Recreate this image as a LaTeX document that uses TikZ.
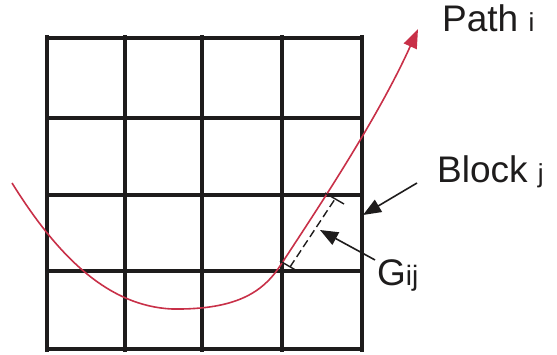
\documentclass[tikz,border=0pt]{standalone}
\usepackage{fontspec}
\setmainfont{Liberation Sans}
\usepackage{tikz}
\usepackage{xcolor}
\usetikzlibrary{arrows.meta,calc}
\definecolor{pathred}{RGB}{200,48,72}
\definecolor{gridblack}{RGB}{30,28,28}

\begin{document}
\begin{tikzpicture}[
    x=1pt,y=-1pt,
    >=Latex,
    lbl/.style={inner sep=0pt,anchor=base west,text=gridblack,
      font=\fontsize{37}{40}\selectfont},
    gridline/.style={line width=3.2pt,color=gridblack,line cap=rect},
    pathline/.style={line width=1.6pt,color=pathred,
      -{Triangle[length=19pt,width=14pt]}},
    pointer/.style={line width=1.6pt,color=gridblack,
      -{Triangle[length=18pt,width=14pt]}},
    tickline/.style={line width=1.4pt,color=gridblack},
    gapline/.style={line width=1.4pt,color=gridblack,dash pattern=on 8pt off 4pt}
  ]
    \useasboundingbox (0,0) rectangle (557,355);

    % grid of blocks
    \foreach \gx in {47,125,202,282,362}
      \draw[gridline] (\gx,37) -- (\gx,350);
    \foreach \gy in {38,118,195,271,349}
      \draw[gridline] (47,\gy) -- (362,\gy);

    % path i
    \draw[pathline] (12,183) .. controls (60,260) and (110,306) .. (172,309)
      .. controls (240,310) and (265,290) .. (282,263)
      .. controls (318,208) and (378,118) .. (418,29);

    % G_ij marker
    \coordinate (gin) at (280,261);
    \coordinate (gout) at (325,193);
    \draw[tickline] (gin) -- ++(19,11);
    \draw[tickline] (gout) -- ++(19,11);
    \draw[gapline] ($(gin)+(10,6)$) -- ($(gout)+(10,6)$);

    \node[lbl] (pathlbl) at (442,32) {Path {\fontsize{26}{28}\selectfont i}};
    \node[lbl] (blocklbl) at (437,183) {Block {\fontsize{26}{28}\selectfont j}};
    \node[lbl] (gijlbl) at (377,286) {G{\fontsize{28}{30}\selectfont ij}};

    \coordinate (blocktip) at (363,215);
    \coordinate (giptip) at (320,230);
    \draw[pointer] ([xshift=-20pt]blocklbl.base west) -- (blocktip);
    \draw[pointer] ([xshift=-2pt]gijlbl.north west) -- (giptip);
  \end{tikzpicture}
\end{document}
